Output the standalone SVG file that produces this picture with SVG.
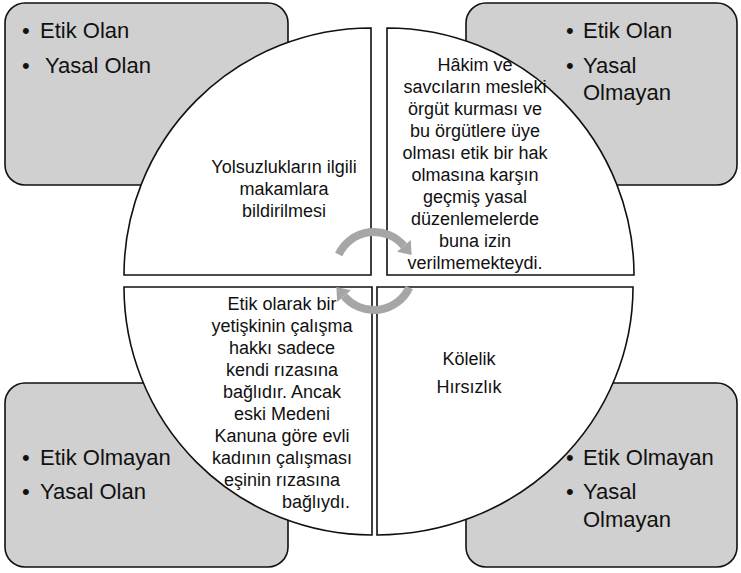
<svg xmlns="http://www.w3.org/2000/svg" width="741" height="573" viewBox="0 0 741 573">
<defs>
<style>
.box{fill:#d0d0d0;stroke:#111;stroke-width:1.6}
.quad{fill:#fff;stroke:#111;stroke-width:1.6}
.bt{font-family:"Liberation Sans",Arial,sans-serif;font-size:22px;fill:#111}
.qt{font-family:"Liberation Sans",Arial,sans-serif;font-size:18px;fill:#111;text-anchor:middle}
.arc{fill:none;stroke:#a6a6a6;stroke-width:8}
.head{fill:#a6a6a6}
</style>
</defs>
<g id="box-tl">
<rect class="box" x="5" y="3" width="283" height="182" rx="20"/>
<text class="bt" x="22" y="38">•</text><text class="bt" x="40" y="38">Etik Olan</text>
<text class="bt" x="22" y="73">•</text><text class="bt" x="45" y="73">Yasal Olan</text>
</g>
<g id="box-tr">
<rect class="box" x="466" y="3" width="271" height="182" rx="20"/>
<text class="bt" x="566" y="38">•</text><text class="bt" x="583" y="38">Etik Olan</text>
<text class="bt" x="566" y="73">•</text><text class="bt" x="583" y="73">Yasal</text>
<text class="bt" x="583" y="100">Olmayan</text>
</g>
<g id="box-bl">
<rect class="box" x="5" y="383" width="283" height="184" rx="20"/>
<text class="bt" x="22" y="465">•</text><text class="bt" x="40" y="465">Etik Olmayan</text>
<text class="bt" x="22" y="499">•</text><text class="bt" x="40" y="499">Yasal Olan</text>
</g>
<g id="box-br">
<rect class="box" x="466" y="383" width="271" height="184" rx="20"/>
<text class="bt" x="566" y="465">•</text><text class="bt" x="583" y="465">Etik Olmayan</text>
<text class="bt" x="566" y="499">•</text><text class="bt" x="583" y="499">Yasal</text>
<text class="bt" x="583" y="527">Olmayan</text>
</g>
<g id="quad-tl">
<path class="quad" d="M371,275 L124,275 A247,247 0 0,1 371,28 Z"/>
<text class="qt" x="284" y="173">Yolsuzlukların ilgili</text>
<text class="qt" x="284" y="195">makamlara</text>
<text class="qt" x="284" y="217">bildirilmesi</text>
</g>
<g id="quad-tr">
<path class="quad" d="M387,275 L387,28 A247,247 0 0,1 634,275 Z"/>
<text class="qt" x="475" y="71">Hâkim ve</text>
<text class="qt" x="475" y="93">savcıların mesleki</text>
<text class="qt" x="475" y="115">örgüt kurması ve</text>
<text class="qt" x="475" y="137">bu örgütlere üye</text>
<text class="qt" x="475" y="159">olması etik bir hak</text>
<text class="qt" x="475" y="181">olmasına karşın</text>
<text class="qt" x="475" y="203">geçmiş yasal</text>
<text class="qt" x="475" y="225">düzenlemelerde</text>
<text class="qt" x="475" y="247">buna izin</text>
<text class="qt" x="475" y="269">verilmemekteydi.</text>
</g>
<g id="quad-bl">
<path class="quad" d="M372,287 L372,535 A248,248 0 0,1 124,287 Z"/>
<text class="qt" x="282" y="310">Etik olarak bir</text>
<text class="qt" x="282" y="332">yetişkinin çalışma</text>
<text class="qt" x="282" y="354">hakkı sadece</text>
<text class="qt" x="282" y="376">kendi rızasına</text>
<text class="qt" x="282" y="398">bağlıdır. Ancak</text>
<text class="qt" x="282" y="420">eski Medeni</text>
<text class="qt" x="282" y="442">Kanuna göre evli</text>
<text class="qt" x="282" y="464">kadının çalışması</text>
<text class="qt" x="282" y="486">eşinin rızasına</text>
<text class="qt" x="316" y="508">bağlıydı.</text>
</g>
<g id="quad-br">
<path class="quad" d="M377,287 L633,287 A256,248 0 0,1 377,535 Z"/>
<text class="qt" x="469" y="365">Kölelik</text>
<text class="qt" x="469" y="393">Hırsızlık</text>
</g>
<g id="connectors">
<path class="arc" d="M338.7,254.5 A39,39 0 0,1 403.9,245.9"/>
<polygon class="head" points="410.8,240.1 397,251.7 411.6,255.1"/>
<path class="arc" d="M409.3,287.5 A39,39 0 0,1 344.1,296.1"/>
<polygon class="head" points="337.2,301.9 351,290.3 336.4,286.9"/>
</g>
</svg>
